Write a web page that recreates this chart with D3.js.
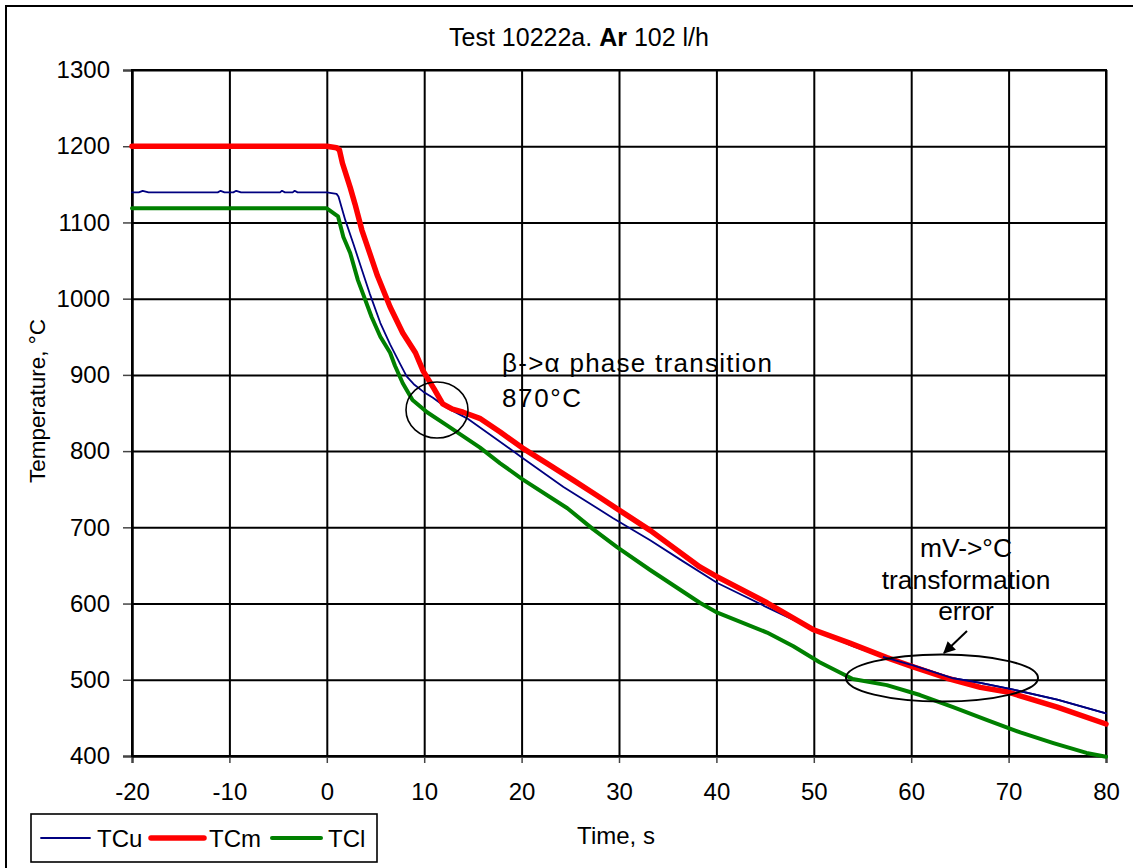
<!DOCTYPE html>
<html>
<head>
<meta charset="utf-8">
<script src="https://cdn.jsdelivr.net/npm/d3@7"></script>
<style>
  html, body { margin: 0; padding: 0; background: #fff; }
  svg { display: block; font-family: "Liberation Sans", Arial, sans-serif; }
</style>
</head>
<body>
<svg id="chart" width="1133" height="868"></svg>
<script>
// ---------- DATA ----------
const chartTitle = "Test 10222a. ";
const xTicks = [-20, -10, 0, 10, 20, 30, 40, 50, 60, 70, 80];
const yTicks = [400, 500, 600, 700, 800, 900, 1000, 1100, 1200, 1300];
const seriesNames = ["TCu", "TCm", "TCl"];

const tcuTime = [-20, -19.3, -18.9, -18.3, -11.2, -10.9, -10.5, -9.6, -9.3, -8.8, -4.8, -4.6, -4.3, -3.5, -3.3, -3.0, 0, 1.0, 1.2, 1.9, 2.7, 3.6, 4.4, 5.5, 6.5, 7.5, 8.2, 9.0, 9.9, 10.9, 12.3, 14.4, 17.5, 20.1, 24.3, 29.4, 33.2, 36.5, 40.1, 45.2, 50, 54, 57.1, 60.2, 64.3, 67.1, 70.5, 75, 80];
const tcuTemp = [1139.5, 1139.5, 1141.5, 1139.5, 1139.5, 1141.5, 1139.5, 1139.5, 1141.5, 1139.5, 1139.5, 1141.5, 1139.5, 1139.5, 1141.5, 1139.5, 1139.5, 1137.5, 1134, 1103, 1073, 1038, 1007, 968, 940, 915, 898, 887, 878, 870, 857, 843, 815, 791, 753, 712, 683, 656, 627, 595, 566, 544, 530, 519, 502, 496, 487, 474, 456];

const tcmTime = [-20, 0, 1.0, 1.3, 1.6, 2.4, 2.9, 3.6, 5.2, 6.5, 7.8, 9.1, 9.9, 11.0, 11.9, 12.9, 14.0, 15.7, 17.8, 20.1, 22.6, 25.3, 27.7, 30.8, 33.2, 38.3, 40.1, 45.2, 49.9, 53.7, 57.5, 60.2, 63.7, 67.1, 69.9, 75, 80];
const tcmTemp = [1200, 1200, 1198, 1195, 1178, 1146, 1124, 1090, 1030, 989, 955, 929, 905, 882, 862, 855, 851, 843, 825, 804, 784, 762, 742, 716, 696, 648, 635, 601, 566, 548, 529, 517, 502, 490, 484, 464, 442];

const tclTime = [-20, 0, 1.15, 1.7, 2.4, 3.2, 3.7, 4.6, 5.5, 6.5, 7.0, 7.8, 8.8, 10.3, 12.3, 15.7, 17.8, 20.1, 24.7, 27.3, 29.8, 33.2, 38.3, 40.1, 45.2, 47.9, 50.6, 54.0, 57.5, 60.9, 64.3, 67.8, 71.2, 74.6, 78.0, 80];
const tclTemp = [1118.5, 1118.5, 1108, 1081, 1060, 1024, 1007, 976, 950, 929, 912, 889, 867, 851, 834, 805, 784, 763, 725, 698, 674, 644, 601, 588, 562, 544, 523, 501, 493, 480, 464, 447, 431, 417, 404, 399];

// ---------- LAYOUT ----------
const svg = d3.select("#chart");
const FONT = "Liberation Sans, Arial, sans-serif";
const plot = { left: 132, right: 1106, top: 70, bottom: 756 };

const x = d3.scaleLinear().domain([-20, 80]).range([plot.left, plot.right]);
const y = d3.scaleLinear().domain([400, 1300]).range([plot.bottom, plot.top]);

// outer frame (right/bottom fall outside the picture)
svg.append("rect").attr("x", 6).attr("y", 6).attr("width", 1160).attr("height", 900)
  .attr("fill", "none").attr("stroke", "#000").attr("stroke-width", 2);

// title
const title = svg.append("text").attr("x", 579).attr("y", 46).attr("text-anchor", "middle")
  .attr("font-size", 25).attr("fill", "#000");
title.append("tspan").text(chartTitle);
title.append("tspan").attr("font-weight", "bold").text("Ar");
title.append("tspan").text(" 102 l/h");

// grid lines
svg.append("g").attr("transform", `translate(0,${plot.bottom})`)
  .call(d3.axisBottom(x).tickValues(xTicks).tickSize(-(plot.bottom - plot.top)).tickFormat(""))
  .call(g => g.select(".domain").remove())
  .call(g => g.selectAll("line").attr("stroke", "#000").attr("stroke-width", 2));
svg.append("g").attr("transform", `translate(${plot.left},0)`)
  .call(d3.axisLeft(y).tickValues(yTicks).tickSize(-(plot.right - plot.left)).tickFormat(""))
  .call(g => g.select(".domain").remove())
  .call(g => g.selectAll("line").attr("stroke", "#000").attr("stroke-width", 2));

// labelled axes with outside ticks
const fmt = d => String(d);
const xAxis = svg.append("g").attr("transform", `translate(0,${plot.bottom})`)
  .call(d3.axisBottom(x).tickValues(xTicks).tickSize(7).tickPadding(20).tickFormat(fmt));
xAxis.select(".domain").attr("stroke", "#000").attr("stroke-width", 2);
xAxis.selectAll("line").attr("stroke", "#444").attr("stroke-width", 1.5);
xAxis.selectAll("text").attr("font-size", 24).attr("font-family", FONT).attr("fill", "#000");

const yAxis = svg.append("g").attr("transform", `translate(${plot.left},0)`)
  .call(d3.axisLeft(y).tickValues(yTicks).tickSize(9).tickPadding(13).tickFormat(fmt));
yAxis.select(".domain").attr("stroke", "#000").attr("stroke-width", 2);
yAxis.selectAll("line").attr("stroke", "#444").attr("stroke-width", 1.5);
yAxis.selectAll("text").attr("font-size", 24).attr("font-family", FONT).attr("fill", "#000");

// plot border
svg.append("rect").attr("x", plot.left).attr("y", plot.top)
  .attr("width", plot.right - plot.left).attr("height", plot.bottom - plot.top)
  .attr("fill", "none").attr("stroke", "#000").attr("stroke-width", 2);

// axis titles
svg.append("text").attr("x", 616).attr("y", 844).attr("text-anchor", "middle")
  .attr("font-size", 24).text("Time, s");
svg.append("text").attr("transform", "translate(45,401) rotate(-90)").attr("text-anchor", "middle")
  .attr("font-size", 22.5).text("Temperature, °C");

// series
const line = d3.line().x(d => x(d[0])).y(d => y(d[1]));
const series = [
  { name: seriesNames[0], t: tcuTime, v: tcuTemp, color: "#000080", width: 1.8 },
  { name: seriesNames[2], t: tclTime, v: tclTemp, color: "#008000", width: 4 },
  { name: seriesNames[1], t: tcmTime, v: tcmTemp, color: "#ff0000", width: 5.5 },
];
const drawOrder = [series[1], series[0], series[2]];
drawOrder.forEach(s => {
  svg.append("path").datum(d3.zip(s.t, s.v)).attr("d", line)
    .attr("fill", "none").attr("stroke", s.color).attr("stroke-width", s.width)
    .attr("stroke-linejoin", "round").attr("stroke-linecap", "round");
});
// blue visible over red where they overlap late in the run
svg.append("path").datum(d3.zip(tcuTime, tcuTemp).filter(d => d[0] >= 55)).attr("d", line)
  .attr("fill", "none").attr("stroke", "#000080").attr("stroke-width", 1.8);

// annotations
svg.append("ellipse").attr("cx", 437).attr("cy", 410).attr("rx", 31).attr("ry", 28)
  .attr("fill", "none").attr("stroke", "#000").attr("stroke-width", 1.6);
svg.append("text").attr("x", 502).attr("y", 372).attr("font-size", 26)
  .attr("textLength", 270).attr("lengthAdjust", "spacing").text("β->α phase transition");
svg.append("text").attr("x", 502).attr("y", 407).attr("font-size", 26)
  .attr("textLength", 79).attr("lengthAdjust", "spacing").text("870°C");

svg.append("ellipse").attr("cx", 942).attr("cy", 678).attr("rx", 96).attr("ry", 23.5)
  .attr("fill", "none").attr("stroke", "#000").attr("stroke-width", 2);
["mV->°C", "transformation", "error"].forEach((s, i) => {
  svg.append("text").attr("x", 966).attr("y", 557 + i * 31.5).attr("text-anchor", "middle")
    .attr("font-size", 26.4).text(s);
});
svg.append("defs").append("marker").attr("id", "arrow").attr("viewBox", "0 0 10 10")
  .attr("refX", 9).attr("refY", 5).attr("markerWidth", 7).attr("markerHeight", 6)
  .attr("markerUnits", "strokeWidth").attr("orient", "auto")
  .append("path").attr("d", "M0,0 L10,5 L0,10 z").attr("fill", "#000");
svg.append("line").attr("x1", 967).attr("y1", 631).attr("x2", 944).attr("y2", 653)
  .attr("stroke", "#000").attr("stroke-width", 2).attr("marker-end", "url(#arrow)");

// legend
const lg = svg.append("g");
lg.append("rect").attr("x", 31).attr("y", 814).attr("width", 346).attr("height", 48)
  .attr("fill", "#fff").attr("stroke", "#000").attr("stroke-width", 1.6);
const legendItems = [
  { s: series[0], x0: 41, x1: 90, tx: 97 },
  { s: series[2], x0: 151, x1: 204, tx: 209 },
  { s: series[1], x0: 272, x1: 321, tx: 328 },
];
legendItems.forEach(it => {
  lg.append("line").attr("x1", it.x0).attr("x2", it.x1).attr("y1", 838).attr("y2", 838)
    .attr("stroke", it.s.color).attr("stroke-width", it.s.width).attr("stroke-linecap", "round");
  lg.append("text").attr("x", it.tx).attr("y", 847).attr("font-size", 24).text(it.s.name);
});
</script>
</body>
</html>
